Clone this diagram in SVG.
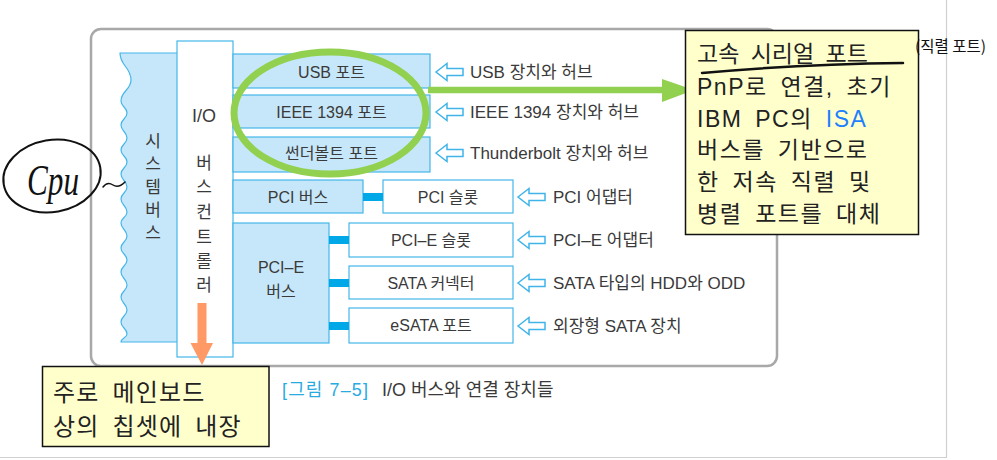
<svg xmlns="http://www.w3.org/2000/svg" xmlns:xlink="http://www.w3.org/1999/xlink" width="997" height="460" viewBox="0 0 997 460">
<style>
.t{font-family:"Liberation Sans","Noto Sans CJK KR",sans-serif;fill:#3a3a3a;}
.k{font-family:"Noto Sans CJK KR",sans-serif;fill:#3a3a3a;}
.lb{font-size:16px;text-anchor:middle;}
.rl{font-size:17px;}
.vt{font-size:17px;text-anchor:middle;}
.bluebox{fill:#c6e7f9;stroke:#45b6ea;stroke-width:1.2;}
.whitebox{fill:#ffffff;stroke:#45b6ea;stroke-width:1.2;}
.bar{fill:#00a8e8;}
.harr{fill:#ffffff;stroke:#3fb4e9;stroke-width:1.5;stroke-linejoin:miter;}
.note{fill:#ffffcc;stroke:#111;stroke-width:1.5;}
.nt{font-family:"Liberation Sans","Noto Sans CJK KR",sans-serif;fill:#222;}
.n1{font-size:23px;letter-spacing:1.5px;word-spacing:5px;}
.n2{font-size:24px;letter-spacing:1.2px;word-spacing:5px;}
.hand{fill:none;stroke:#111;stroke-linecap:round;}
</style>
<defs>
<path id="harrow" class="harr" d="M0,0 L11,-8.5 L11,-3.5 L27,-3.5 L27,3.5 L11,3.5 L11,8.5 Z"/>
</defs>
<rect x="0" y="0" width="997" height="460" fill="#ffffff"/>
<g id="page-edges" stroke="#d0d0d0" stroke-width="1.2" fill="none">
<line x1="946.5" y1="0" x2="946.5" y2="458"/>
<line x1="0" y1="457.5" x2="946.5" y2="457.5"/>
</g>
<g id="frame">
<rect x="91" y="29" width="686" height="337" rx="10" fill="#ffffff" stroke="#a8a8a8" stroke-width="2.5"/>
</g>
<g id="system-bus">
<path class="bluebox" d="M178,53 L120,53 C120,66 131,67 131,80 C131,90 121,91 121,101 C121,107 127,107 127,113 C127,119 121,119 121,125 C121,131.5 127,131.5 127,138 C127,144 121,144 121,150 C121,156 127,156 127,162 C127,168 121,168 121,174 C121,180.5 127,180.5 127,187 C127,193 121,193 121,199 C121,205.5 127,205.5 127,212 C127,217.5 121,217.5 121,223 C121,229.5 127,229.5 127,236 C127,242 121,242 121,248 C121,254 127,254 127,260 C127,266 121,266 121,272 C121,278.5 127,278.5 127,285 C127,291 121,291 121,297 C121,303.5 127,303.5 127,310 C127,316 121,316 121,322 C121,328 127,328 127,334 C127,338 121,338 121,342 L178,342 Z"/>
<text class="k vt" x="153" y="147">시</text>
<text class="k vt" x="153" y="170">스</text>
<text class="k vt" x="153" y="193">템</text>
<text class="k vt" x="153" y="216">버</text>
<text class="k vt" x="153" y="239">스</text>
</g>
<g id="io-controller">
<rect class="whitebox" x="177" y="41" width="56" height="316"/>
<text class="t" x="204" y="122" font-size="18" text-anchor="middle">I/O</text>
<text class="k vt" x="204" y="169">버</text>
<text class="k vt" x="204" y="193">스</text>
<text class="k vt" x="204" y="218">컨</text>
<text class="k vt" x="204" y="243">트</text>
<text class="k vt" x="204" y="267">롤</text>
<text class="k vt" x="204" y="291">러</text>
</g>
<g id="usb-port">
<rect class="bluebox" x="233" y="54" width="197" height="34"/>
<text class="t lb" x="331.5" y="78">USB 포트</text>
</g>
<g id="ieee-port">
<rect class="bluebox" x="233" y="95" width="197" height="33"/>
<text class="t lb" x="331.5" y="118">IEEE 1394 포트</text>
</g>
<g id="thunderbolt-port">
<rect class="bluebox" x="233" y="137" width="197" height="35"/>
<text class="t lb" x="331.5" y="159">썬더볼트 포트</text>
</g>
<g id="pci-bus">
<rect class="bluebox" x="233" y="180" width="130" height="33"/>
<text class="t lb" x="298" y="203">PCI 버스</text>
</g>
<g id="pci-slot">
<rect class="whitebox" x="383" y="180" width="130" height="33"/>
<text class="t lb" x="448" y="203">PCI 슬롯</text>
</g>
<g id="pcie-bus">
<rect class="bluebox" x="233" y="223" width="96" height="120"/>
<text class="t lb" x="281" y="273">PCI–E</text>
<text class="t lb" x="281" y="297">버스</text>
</g>
<g id="pcie-slot">
<rect class="whitebox" x="349" y="223" width="164" height="34"/>
<text class="t lb" x="431" y="246">PCI–E 슬롯</text>
</g>
<g id="sata-connector">
<rect class="whitebox" x="349" y="266" width="164" height="33"/>
<text class="t lb" x="431" y="289">SATA 커넥터</text>
</g>
<g id="esata-port">
<rect class="whitebox" x="349" y="308" width="164" height="35"/>
<text class="t lb" x="431" y="331">eSATA 포트</text>
</g>
<g id="device-labels">
<text class="t rl" x="470" y="78">USB 장치와 허브</text>
<text class="t rl" x="470" y="118">IEEE 1394 장치와 허브</text>
<text class="t rl" x="470" y="159">Thunderbolt 장치와 허브</text>
<text class="t rl" x="553" y="203">PCI 어댑터</text>
<text class="t rl" x="553" y="246">PCI–E 어댑터</text>
<text class="t rl" x="553" y="289">SATA 타입의 HDD와 ODD</text>
<text class="t rl" x="553" y="332">외장형 SATA 장치</text>
</g>
<g id="connectors">
<rect class="bar" x="363" y="193" width="20" height="8"/>
<rect class="bar" x="329" y="236" width="20" height="8"/>
<rect class="bar" x="329" y="279" width="20" height="8"/>
<rect class="bar" x="329" y="322" width="20" height="8"/>
<use xlink:href="#harrow" x="436" y="72"/>
<use xlink:href="#harrow" x="436" y="112"/>
<use xlink:href="#harrow" x="436" y="153"/>
<use xlink:href="#harrow" x="518" y="197"/>
<use xlink:href="#harrow" x="518" y="240"/>
<use xlink:href="#harrow" x="518" y="283"/>
<use xlink:href="#harrow" x="518" y="326"/>
<path d="M428,90 L664,90" stroke="#92d050" stroke-width="6.5" fill="none"/>
<polygon points="662,79 694,90 662,102" fill="#92d050"/>
<polygon points="197.5,303 206.5,303 206.5,343 213,343 202,365 190.5,343 197.5,343" fill="#ff9966"/>
<path class="hand" d="M103,187 c3,-4 7,-4 10,-2 s7,2 12,-3" stroke-width="1.5"/>
</g>
<g id="highlight-ellipse">
<ellipse cx="330" cy="113" rx="96" ry="61" fill="none" stroke="#92d050" stroke-width="7"/>
</g>
<g id="note-serial">
<rect class="note" x="685.5" y="30.5" width="233" height="204"/>
<text class="nt n1" x="697" y="62" style="letter-spacing:0">고속 시리얼 포트</text>
<text class="nt n1" x="697" y="95">PnP로 연결, 초기</text>
<text class="nt n1" x="697" y="127">IBM PC의 <tspan fill="#1e7fff">ISA</tspan></text>
<text class="nt n1" x="697" y="158">버스를 기반으로</text>
<text class="nt n1" x="697" y="190">한 저속 직렬 및</text>
<text class="nt n1" x="697" y="222">병렬 포트를 대체</text>
<path class="hand" d="M702,73 Q800,64 903,63" stroke-width="2.5"/>
<text x="915" y="52" font-family="Noto Sans CJK KR, sans-serif" font-size="15.5" fill="#111">(직렬 포트)</text>
</g>
<g id="cpu-note">
<ellipse cx="52" cy="176" rx="49" ry="36" transform="rotate(-10 52 176)" fill="none" stroke="#111" stroke-width="2"/>
<text x="27" y="195" font-family="Liberation Serif, serif" font-style="italic" font-size="44" fill="#111" textLength="52" lengthAdjust="spacingAndGlyphs">Cpu</text>
</g>
<g id="note-chipset">
<rect class="note" x="42.5" y="366.5" width="226.5" height="80"/>
<text class="nt n2" x="53" y="401">주로 메인보드</text>
<text class="nt n2" x="53" y="435">상의 칩셋에 내장</text>
</g>
<g id="caption">
<text class="t" x="282" y="396" font-size="18" style="fill:#29abe2" textLength="86">[그림 7–5]</text>
<text class="t" x="382" y="396" font-size="18">I/O 버스와 연결 장치들</text>
</g>
</svg>
